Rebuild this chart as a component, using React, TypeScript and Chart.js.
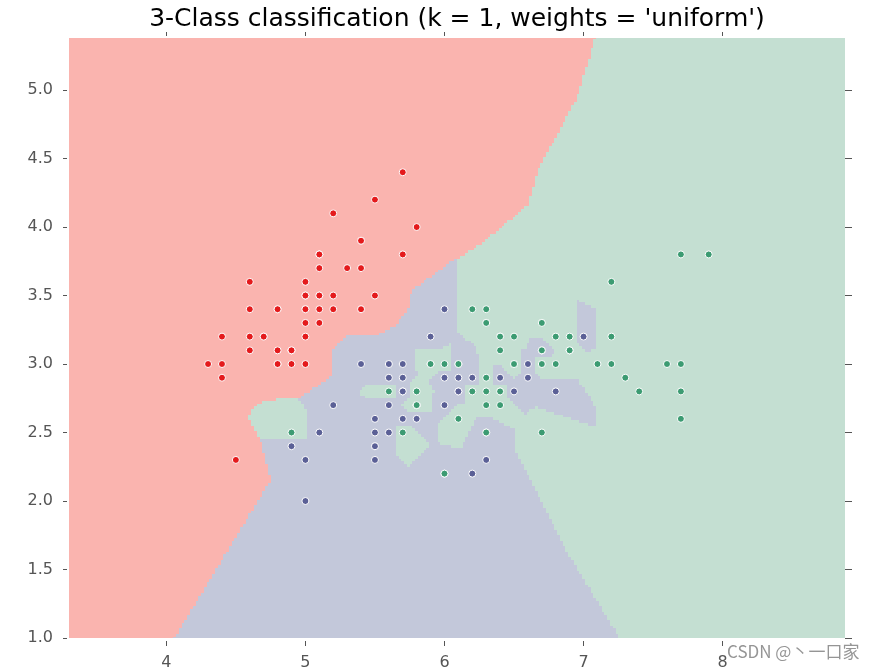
import React, { useEffect, useRef } from "react";
import { Chart, registerables } from "chart.js";

Chart.register(...registerables);

// Iris sepal length (x) / sepal width (y) per class
const setosaX = [5.1, 4.9, 4.7, 4.6, 5.0, 5.4, 4.6, 5.0, 4.4, 4.9, 5.4, 4.8, 4.8, 4.3, 5.8, 5.7, 5.4, 5.1, 5.7, 5.1, 5.4, 5.1, 4.6, 5.1, 4.8, 5.0, 5.0, 5.2, 5.2, 4.7, 4.8, 5.4, 5.2, 5.5, 4.9, 5.0, 5.5, 4.9, 4.4, 5.1, 5.0, 4.5, 4.4, 5.0, 5.1, 4.8, 5.1, 4.6, 5.3, 5.0];
const setosaY = [3.5, 3.0, 3.2, 3.1, 3.6, 3.9, 3.4, 3.4, 2.9, 3.1, 3.7, 3.4, 3.0, 3.0, 4.0, 4.4, 3.9, 3.5, 3.8, 3.8, 3.4, 3.7, 3.6, 3.3, 3.4, 3.0, 3.4, 3.5, 3.4, 3.2, 3.1, 3.4, 4.1, 4.2, 3.1, 3.2, 3.5, 3.1, 3.0, 3.4, 3.5, 2.3, 3.2, 3.5, 3.8, 3.0, 3.8, 3.2, 3.7, 3.3];
const versicolorX = [7.0, 6.4, 6.9, 5.5, 6.5, 5.7, 6.3, 4.9, 6.6, 5.2, 5.0, 5.9, 6.0, 6.1, 5.6, 6.7, 5.6, 5.8, 6.2, 5.6, 5.9, 6.1, 6.3, 6.1, 6.4, 6.6, 6.8, 6.7, 6.0, 5.7, 5.5, 5.5, 5.8, 6.0, 5.4, 6.0, 6.7, 6.3, 5.6, 5.5, 5.5, 6.1, 5.8, 5.0, 5.6, 5.7, 5.7, 6.2, 5.1, 5.7];
const versicolorY = [3.2, 3.2, 3.1, 2.3, 2.8, 2.8, 3.3, 2.4, 2.9, 2.7, 2.0, 3.0, 2.2, 2.9, 2.9, 3.1, 3.0, 2.7, 2.2, 2.5, 3.2, 2.8, 2.5, 2.8, 2.9, 3.0, 2.8, 3.0, 2.9, 2.6, 2.4, 2.4, 2.7, 2.7, 3.0, 3.4, 3.1, 2.3, 3.0, 2.5, 2.6, 3.0, 2.6, 2.3, 2.7, 3.0, 2.9, 2.9, 2.5, 2.8];
const virginicaX = [6.3, 5.8, 7.1, 6.3, 6.5, 7.6, 4.9, 7.3, 6.7, 7.2, 6.5, 6.4, 6.8, 5.7, 5.8, 6.4, 6.5, 7.7, 7.7, 6.0, 6.9, 5.6, 7.7, 6.3, 6.7, 7.2, 6.2, 6.1, 6.4, 7.2, 7.4, 7.9, 6.4, 6.3, 6.1, 7.7, 6.3, 6.4, 6.0, 6.9, 6.7, 6.9, 5.8, 6.8, 6.7, 6.7, 6.3, 6.5, 6.2, 5.9];
const virginicaY = [3.3, 2.7, 3.0, 2.9, 3.0, 3.0, 2.5, 2.9, 2.5, 3.6, 3.2, 2.7, 3.0, 2.5, 2.8, 3.2, 3.0, 3.8, 2.6, 2.2, 3.2, 2.8, 2.8, 2.7, 3.3, 3.2, 2.8, 3.0, 2.8, 3.0, 2.8, 3.8, 2.8, 2.8, 2.6, 3.0, 3.4, 3.1, 3.0, 3.1, 3.1, 3.1, 2.7, 3.2, 3.3, 3.0, 2.5, 3.0, 3.4, 3.0];

// Duplicated (versicolor & virginica) samples whose region the fitted model gives to versicolor
const tieVersicolorX = [6.0, 6.1, 6.3, 6.7];
const tieVersicolorY = [2.2, 3.0, 2.5, 3.1];

const classNames = ["setosa", "versicolor", "virginica"];
const pointColors = ["#E41A1C", "#5B6096", "#3C9B72"];
const regionColors = ["#FAB4AF", "#C3C8DA", "#C4DFD2"];

const xTicks = [4, 5, 6, 7, 8];
const yTicks = [1.0, 1.5, 2.0, 2.5, 3.0, 3.5, 4.0, 4.5, 5.0];

const xMin = 3.3;
const xMax = 8.88;
const yMin = 1.0;
const yMax = 5.38;
const meshStep = 0.02;

const titleText = "3-Class classification (k = 1, weights = 'uniform')";
const watermark = "CSDN @丶一口家";

// 1-nearest-neighbour prediction on the mesh (the model the chart shows)
function computeMesh() {
  const trainX: number[] = [];
  const trainY: number[] = [];
  const trainC: number[] = [];
  const groups = [
    [setosaX, setosaY],
    [versicolorX, versicolorY],
    [virginicaX, virginicaY],
  ];
  groups.forEach(([xs, ys], c) => {
    xs.forEach((x, i) => {
      trainX.push(Math.round(x * 100));
      trainY.push(Math.round(ys[i] * 100));
      trainC.push(c);
    });
  });
  // resolve identical locations: the last class wins unless listed for versicolor
  const locClass = new Map<string, number>();
  trainX.forEach((x, k) => {
    locClass.set(x + "," + trainY[k], trainC[k]);
  });
  tieVersicolorX.forEach((x, i) => {
    locClass.set(Math.round(x * 100) + "," + Math.round(tieVersicolorY[i] * 100), 1);
  });
  const effC = trainX.map((x, k) => locClass.get(x + "," + trainY[k]) as number);

  const s = Math.round(meshStep * 100);
  const nx = Math.round((xMax - xMin) / meshStep) + 1;
  const ny = Math.round((yMax - yMin) / meshStep) + 1;
  const x0 = Math.round(xMin * 100);
  const y0 = Math.round(yMin * 100);
  const grid: number[][] = [];
  for (let j = 0; j < ny; j++) {
    const row: number[] = [];
    const gy = y0 + j * s;
    for (let i = 0; i < nx; i++) {
      const gx = x0 + i * s;
      let best = Infinity;
      let cls = 0;
      for (let k = 0; k < trainX.length; k++) {
        const dx = trainX[k] - gx;
        const dy = trainY[k] - gy;
        const d = dx * dx + dy * dy;
        if (d <= best) {
          best = d;
          cls = effC[k];
        }
      }
      row.push(cls);
    }
    grid.push(row);
  }
  return { grid, nx, ny };
}

const FONT = "'DejaVu Sans', sans-serif";

export default function App() {
  const ref = useRef<HTMLCanvasElement | null>(null);

  useEffect(() => {
    if (!ref.current) return;
    const mesh = computeMesh();

    const meshPlugin = {
      id: "meshPlugin",
      beforeDatasetsDraw(chart: any) {
        const { ctx, chartArea } = chart;
        const xs = chart.scales.x;
        const ys = chart.scales.y;
        ctx.save();
        ctx.beginPath();
        ctx.rect(chartArea.left, chartArea.top, chartArea.right - chartArea.left, chartArea.bottom - chartArea.top);
        ctx.clip();
        const half = meshStep / 2;
        for (let j = 0; j < mesh.ny; j++) {
          const yv = yMin + j * meshStep;
          const top = Math.round(ys.getPixelForValue(yv + half));
          const bottom = Math.round(ys.getPixelForValue(yv - half));
          const row = mesh.grid[j];
          let start = 0;
          for (let i = 1; i <= mesh.nx; i++) {
            if (i === mesh.nx || row[i] !== row[start]) {
              const left = Math.round(xs.getPixelForValue(xMin + start * meshStep - half));
              const right = Math.round(xs.getPixelForValue(xMin + (i - 1) * meshStep + half));
              ctx.fillStyle = regionColors[row[start]];
              ctx.fillRect(left, top, right - left, bottom - top);
              start = i;
            }
          }
        }
        ctx.restore();
      },
    };

    const mk = (xs: number[], ys: number[]) => xs.map((x, i) => ({ x, y: ys[i] }));
    const setTicks = (vals: number[]) => (scale: any) => {
      scale.ticks = vals.map((v) => ({ value: v }));
    };

    const chart = new Chart(ref.current, {
      type: "scatter",
      data: {
        datasets: [
          { label: classNames[0], data: mk(setosaX, setosaY), order: 3 },
          { label: classNames[1], data: mk(versicolorX, versicolorY), order: 2 },
          { label: classNames[2], data: mk(virginicaX, virginicaY), order: 1 },
        ].map((d, c) => ({
          ...d,
          backgroundColor: pointColors[c],
          borderColor: "#ffffff",
          borderWidth: 1,
          pointRadius: 3.5,
          pointHoverRadius: 3.5,
          xAxisID: "x",
          yAxisID: "y",
        })),
      },
      options: {
        animation: false,
        responsive: false,
        devicePixelRatio: 1,
        layout: { padding: 0 },
        plugins: {
          legend: { display: false },
          tooltip: { enabled: false },
          title: {
            display: true,
            text: titleText,
            color: "#000000",
            fullSize: false,
            font: { family: FONT, size: 25, weight: "normal", lineHeight: 1 },
            padding: { top: 7, bottom: 0 },
          },
        },
        scales: {
          x: {
            type: "linear",
            position: "bottom",
            min: xMin,
            max: xMax,
            afterBuildTicks: setTicks(xTicks),
            afterFit: (s: any) => {
              s.height = 32;
            },
            border: { display: false },
            grid: { drawOnChartArea: false, tickLength: 8, tickColor: "#555555", tickBorderDash: [0, 3, 5, 50] },
            ticks: { color: "#555555", font: { family: FONT, size: 16 }, padding: 7, maxRotation: 0, callback: (v: any) => String(v) },
          },
          x2: {
            type: "linear",
            position: "top",
            min: xMin,
            max: xMax,
            afterBuildTicks: setTicks(xTicks),
            afterFit: (s: any) => {
              s.height = 6;
            },
            border: { display: false },
            grid: { drawOnChartArea: false, tickLength: 6, tickColor: "#555555", tickBorderDash: [4, 50] },
            ticks: { display: false },
          },
          y: {
            type: "linear",
            position: "left",
            min: yMin,
            max: yMax,
            afterBuildTicks: setTicks(yTicks),
            afterFit: (s: any) => {
              s.width = 69;
            },
            border: { display: false },
            grid: { drawOnChartArea: false, tickLength: 6, tickColor: "#555555", tickBorderDash: [4, 50] },
            ticks: { color: "#555555", font: { family: FONT, size: 16 }, padding: 10, callback: (v: any) => Number(v).toFixed(1) },
          },
          y2: {
            type: "linear",
            position: "right",
            min: yMin,
            max: yMax,
            afterBuildTicks: setTicks(yTicks),
            afterFit: (s: any) => {
              s.width = 34;
            },
            border: { display: false },
            grid: { drawOnChartArea: false, tickLength: 7, tickColor: "#555555" },
            ticks: { display: false },
          },
        },
      } as any,
      plugins: [meshPlugin],
    });

    return () => chart.destroy();
  }, []);

  return (
    <div style={{ position: "absolute", left: 0, top: 0, width: 879, height: 670, background: "#ffffff" }}>
      <canvas ref={ref} width={879} height={670} style={{ width: 879, height: 670, display: "block" }} />
      <div
        style={{
          position: "absolute",
          left: 727,
          top: 642,
          fontFamily: "'Noto Sans CJK SC', sans-serif",
          fontSize: 17,
          lineHeight: "17px",
          color: "rgba(130,130,130,0.85)",
          whiteSpace: "nowrap",
        }}
      >
        {watermark}
      </div>
    </div>
  );
}
